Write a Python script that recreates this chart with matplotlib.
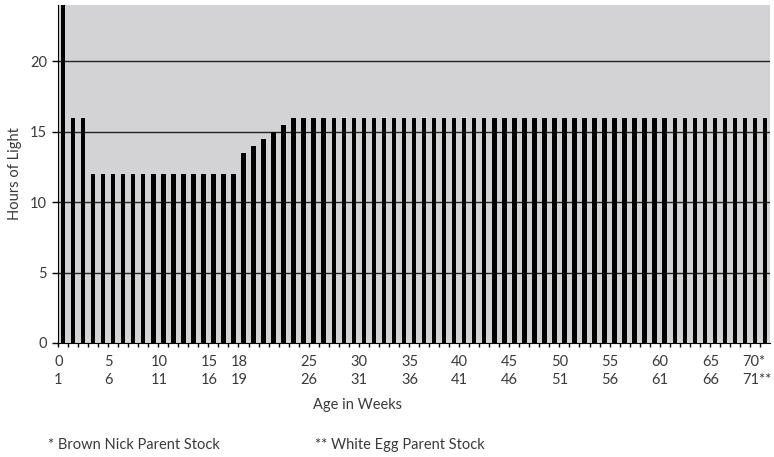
import numpy as np
import matplotlib.pyplot as plt
from matplotlib.ticker import FixedLocator

plt.rcParams['font.family'] = ['Lato', 'DejaVu Sans']

# hours of light per week of age (weeks 0..70)
weeks = np.arange(0, 71)
hours = [24, 16, 16] + [12]*15 + [13.5, 14, 14.5, 15, 15.5] + [16]*48

# two-row x labels
label_weeks = [0, 5, 10, 15, 18, 25, 30, 35, 40, 45, 50, 55, 60, 65, 70]
top_labels = ['0', '5', '10', '15', '18', '25', '30', '35', '40', '45',
              '50', '55', '60', '65', '70*']
bottom_labels = ['1', '6', '11', '16', '19', '26', '31', '36', '41', '46',
                 '51', '56', '61', '66', '71**']
y_ticks = [0, 5, 10, 15, 20]

txt = '#3a3a3a'
fs = 10.5

fig = plt.figure(figsize=(7.74, 4.57), dpi=100)
ax = fig.add_axes([0.0749, 0.2495, 0.92, 0.7395])
ax.set_facecolor('#d3d3d5')

ax.bar(weeks, hours, width=0.45, color='black', zorder=3)

ax.set_xlim(-0.5, 70.5)
ax.set_ylim(0, 24)

# horizontal grid lines
for y in y_ticks[1:]:
    ax.axhline(y, color='#222222', lw=1, zorder=2)

ax.set_yticks(y_ticks)
ax.tick_params(axis='y', direction='out', length=4, width=1, color='black',
               labelsize=fs, labelcolor=txt, pad=4)

xpos = [w - 0.45 for w in label_weeks]
xpos[-1] = 69.2
ax.set_xticks(xpos)
ax.set_xticklabels([t + '\n' + b for t, b in zip(top_labels, bottom_labels)],
                   linespacing=1.35)
ax.get_xticklabels()[-1].set_multialignment('left')
ax.tick_params(axis='x', which='major', length=0, labelsize=fs,
               labelcolor=txt, pad=9)
ax.xaxis.set_minor_locator(FixedLocator(weeks - 0.5))
ax.tick_params(axis='x', which='minor', direction='out', length=3, width=1,
               color='black')

for s in ['top', 'right']:
    ax.spines[s].set_visible(False)
ax.spines['left'].set_color('black')
ax.spines['bottom'].set_color('black')
ax.spines['left'].set_zorder(4)

ax.set_ylabel('Hours of Light', fontsize=fs, color=txt)
ax.yaxis.set_label_coords(-0.05, 0.5)
ax.set_xlabel('Age in Weeks', fontsize=fs, color=txt)
ax.xaxis.set_label_coords(0.421, -0.163)

fig.text(48/774, 1 - 445/457, '* Brown Nick Parent Stock', fontsize=fs,
         color=txt, ha='left', va='center')
fig.text(315/774, 1 - 445/457, '** White Egg Parent Stock', fontsize=fs,
         color=txt, ha='left', va='center')

fig.savefig('out.png', dpi=100)
